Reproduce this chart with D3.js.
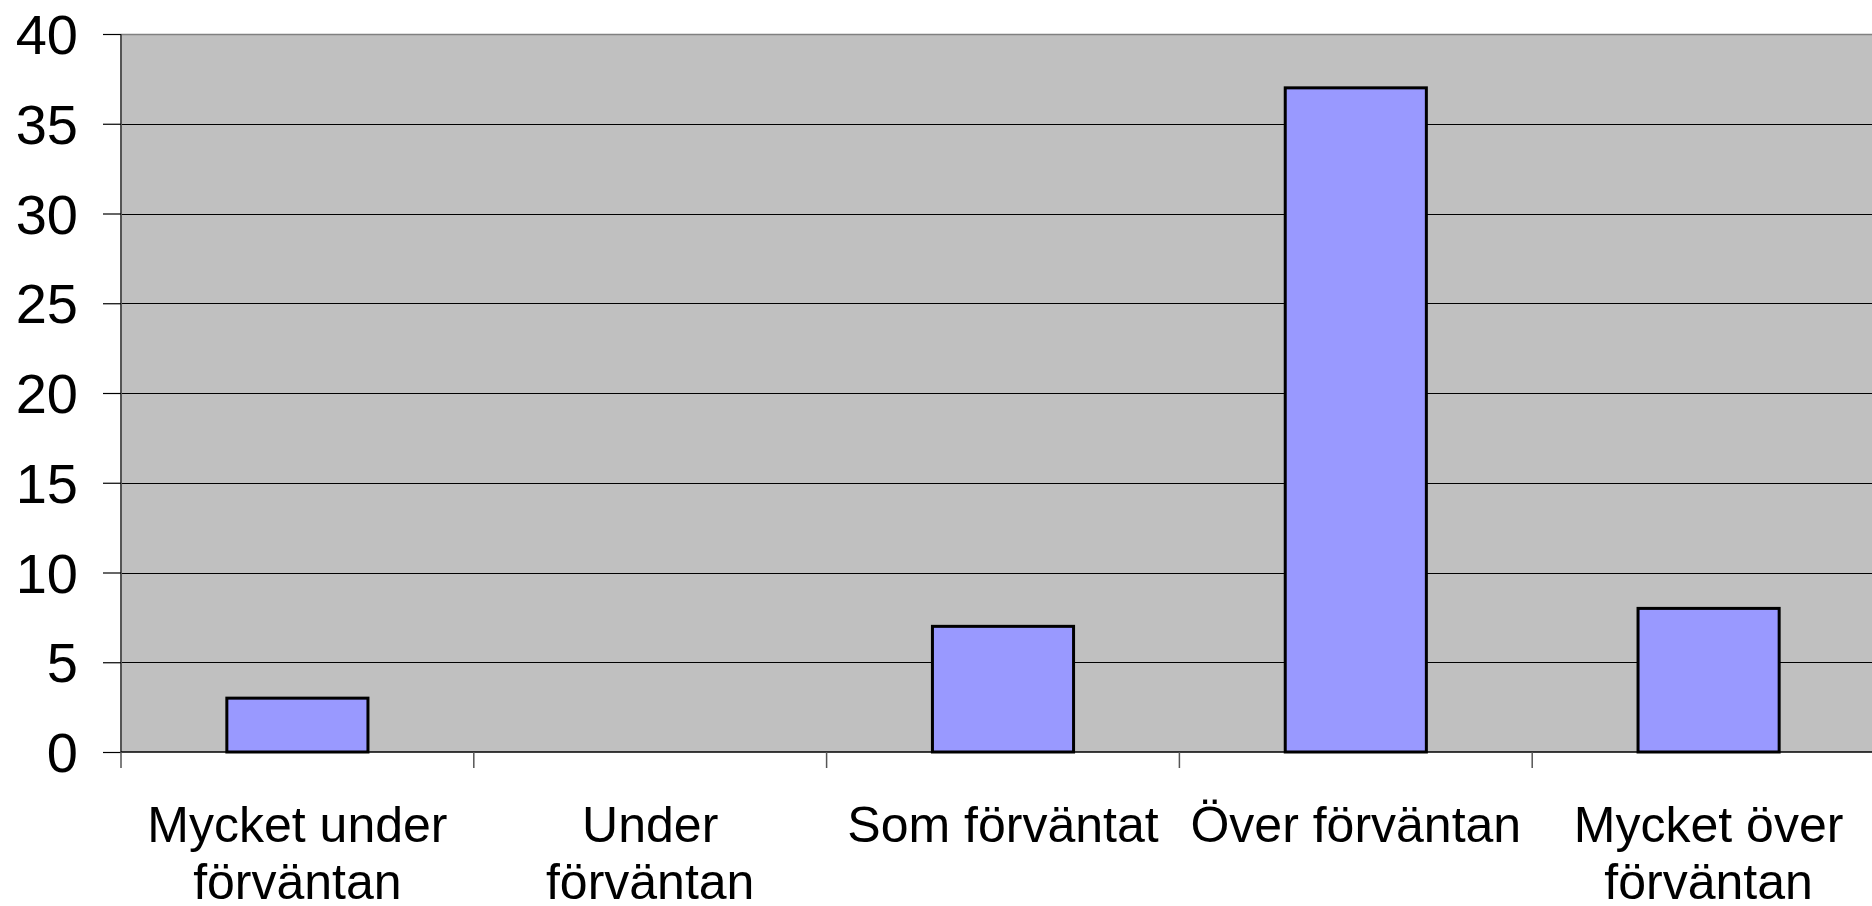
<!DOCTYPE html>
<html>
<head>
<meta charset="utf-8">
<script src="https://cdn.jsdelivr.net/npm/d3@7"></script>
<style>
  html, body { margin: 0; padding: 0; background: #fff; overflow: hidden; }
  text { font-family: "Liberation Sans", Arial, sans-serif; fill: #000; }
</style>
</head>
<body>
<div id="chart"></div>
<script>
// data
let categories = ["Mycket under förväntan", "Under förväntan", "Som förväntat", "Över förväntan", "Mycket över förväntan"];
let values = [3, 0, 7, 37, 8];
let yTicks = [0, 5, 10, 15, 20, 25, 30, 35, 40];

let width = 1872;
let height = 906;

// plot area (the right edge runs a little past the window, like the original)
let plotLeft = 121, plotRight = 1885, plotTop = 34, plotBottom = 752;

let svg = d3.select("#chart")
    .append("svg")
    .attr("width", width)
    .attr("height", height);

let x = d3.scaleBand()
    .domain(categories)
    .range([plotLeft, plotRight])
    .paddingInner(0)
    .paddingOuter(0);

let y = d3.scaleLinear()
    .domain([0, 40])
    .range([plotBottom, plotTop]);

// grey plot background
svg.append("rect")
    .attr("x", plotLeft)
    .attr("y", plotTop)
    .attr("width", plotRight - plotLeft)
    .attr("height", plotBottom - plotTop)
    .attr("fill", "#c0c0c0");

// top border of plot
svg.append("line")
    .attr("x1", plotLeft).attr("x2", plotRight)
    .attr("y1", plotTop + 0.5).attr("y2", plotTop + 0.5)
    .attr("stroke", "#808080")
    .attr("stroke-width", 1.5);

// gridlines
svg.append("g")
    .selectAll("line")
    .data(yTicks.filter(d => d > 0 && d < 40))
    .enter()
    .append("line")
    .attr("x1", plotLeft)
    .attr("x2", plotRight)
    .attr("y1", d => Math.round(y(d)) + 0.5)
    .attr("y2", d => Math.round(y(d)) + 0.5)
    .attr("stroke", "#000")
    .attr("stroke-width", 1);

// bars
let bw = x.bandwidth() * 0.4;
let barData = categories.map((c, i) => ({ cat: c, val: values[i] }));
svg.append("g")
    .selectAll("rect")
    .data(barData.filter(d => d.val > 0))
    .enter()
    .append("rect")
    .attr("x", d => x(d.cat) + (x.bandwidth() - bw) / 2)
    .attr("y", d => y(d.val))
    .attr("width", bw)
    .attr("height", d => plotBottom - y(d.val))
    .attr("fill", "#9999ff")
    .attr("stroke", "#000")
    .attr("stroke-width", 3);

// y axis
let yAxis = svg.append("g")
    .attr("transform", "translate(" + plotLeft + ",0)")
    .call(d3.axisLeft(y).tickValues(yTicks).tickSize(18).tickPadding(25));
yAxis.select(".domain").attr("stroke", "#555").attr("stroke-width", 2).attr("d", "M0," + plotTop + "V" + plotBottom);
yAxis.selectAll(".tick line").attr("stroke", "#000").attr("stroke-width", 1.2);
yAxis.selectAll(".tick text")
    .style("font-size", "56px")
    .style("font-family", "'Liberation Sans', Arial, sans-serif")
    .attr("fill", "#000")
    .attr("dy", "0.35em");

// x axis line at zero
svg.append("line")
    .attr("x1", plotLeft).attr("x2", plotRight)
    .attr("y1", plotBottom).attr("y2", plotBottom)
    .attr("stroke", "#000")
    .attr("stroke-width", 1.5);

// x tick marks at category boundaries
svg.append("g")
    .selectAll("line")
    .data(categories)
    .enter()
    .append("line")
    .attr("x1", d => x(d))
    .attr("x2", d => x(d))
    .attr("y1", plotBottom)
    .attr("y2", plotBottom + 16)
    .attr("stroke", "#555")
    .attr("stroke-width", 1.5);

// x labels, wrapped when wider than the category
let labels = svg.append("g")
    .selectAll("text")
    .data(categories)
    .enter()
    .append("text")
    .attr("x", d => x(d) + x.bandwidth() / 2)
    .attr("y", 842)
    .attr("text-anchor", "middle")
    .style("font-size", "50px");

labels.each(function (d) {
    let t = d3.select(this);
    t.text(d);
    if (this.getComputedTextLength() > 340) {
        let words = d.split(" ");
        let last = words.pop();
        t.text(null);
        t.append("tspan").attr("x", t.attr("x")).text(words.join(" "));
        t.append("tspan").attr("x", t.attr("x")).attr("dy", 57).text(last);
    }
});
</script>
</body>
</html>
